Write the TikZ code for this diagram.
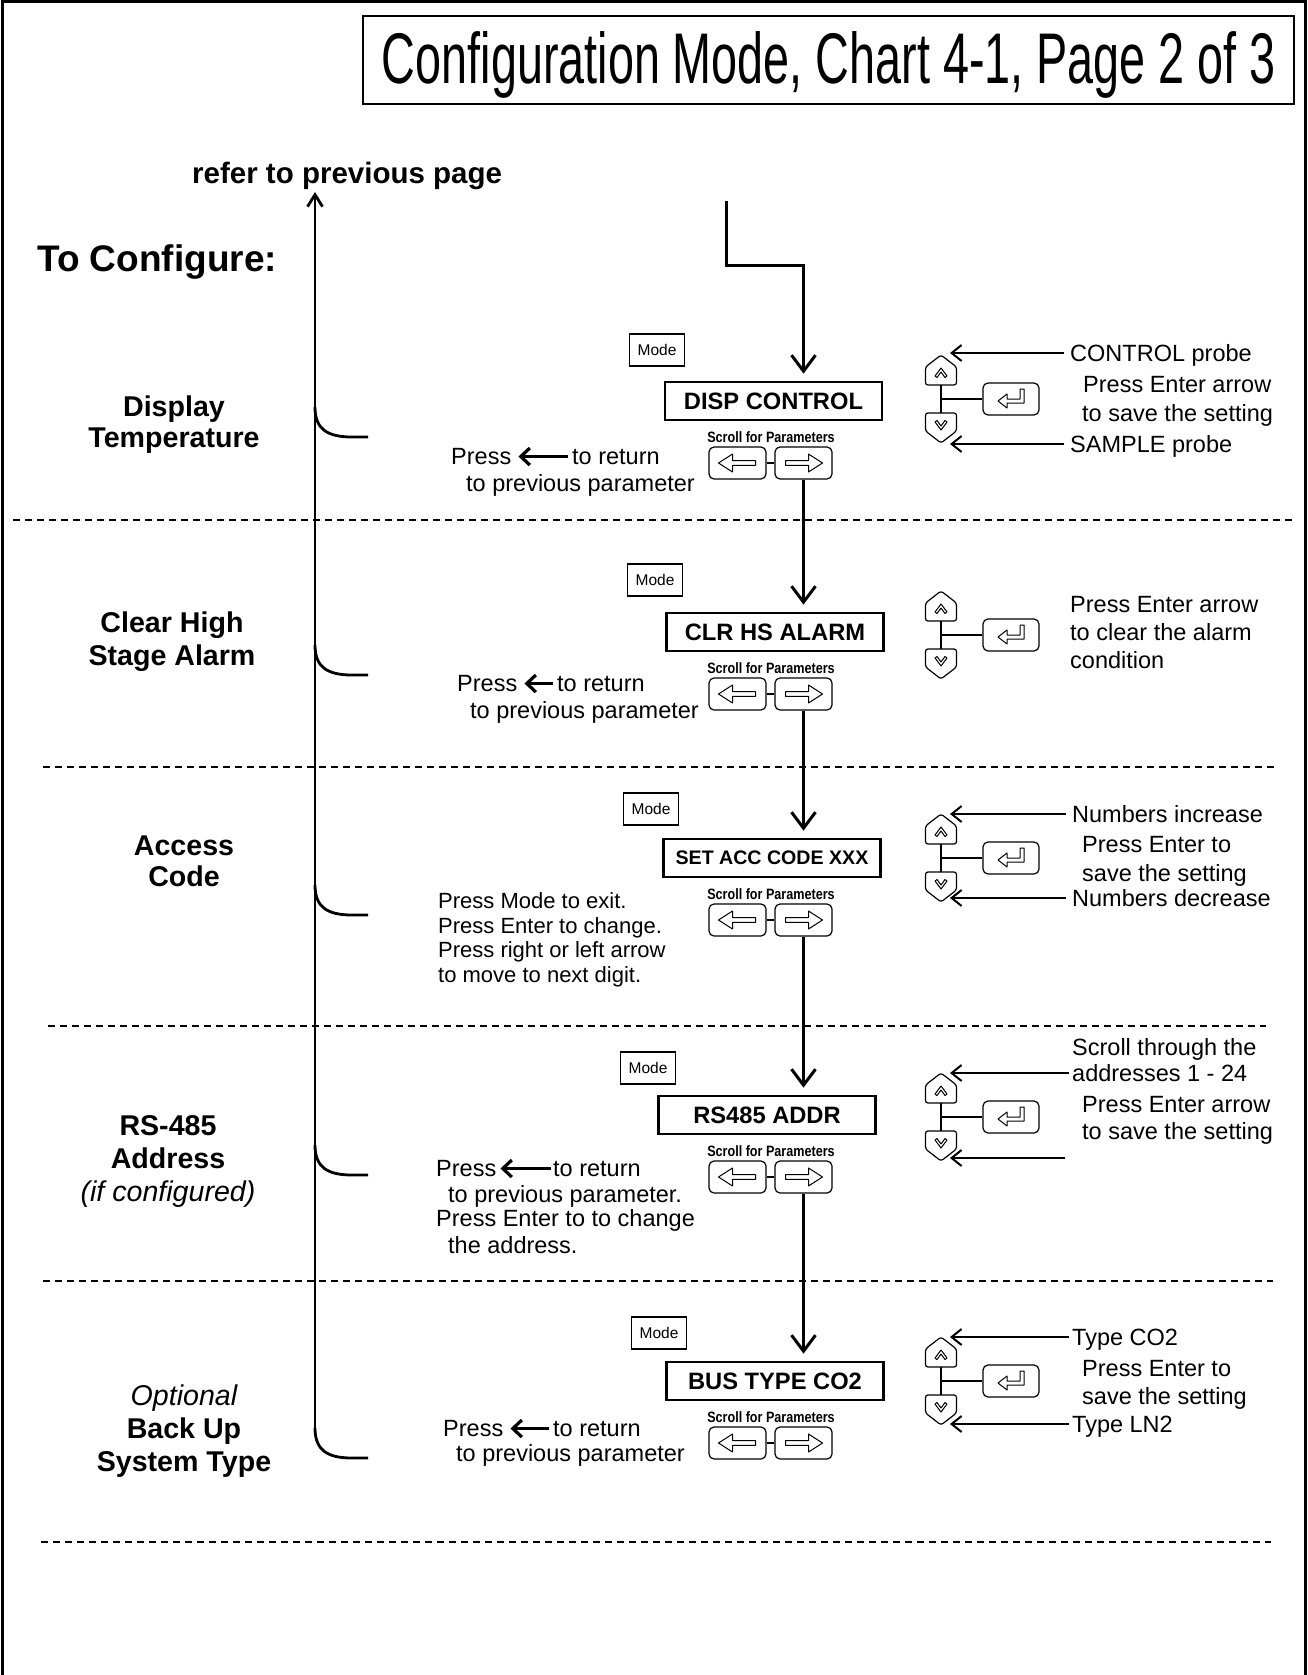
\documentclass[tikz,border=0pt]{standalone}
\usepackage{fontspec}
\setmainfont{Liberation Sans}
\usetikzlibrary{arrows.meta,calc}
\newcommand\fsz[2]{\fontsize{#1}{#2}\selectfont}
\tikzset{
  txt/.style={inner sep=0pt, anchor=base west, font=\fsz{23.5}{28}},
  smalltxt/.style={inner sep=0pt, anchor=base west, font=\fsz{22}{26}},
  lbl/.style={inner sep=0pt, anchor=base, font=\fsz{28.6}{32}\bfseries},
  lbli/.style={inner sep=0pt, anchor=base, font=\fsz{28.6}{32}\itshape},
  dispbox/.style={draw, line width=2.7pt, minimum width=217pt, minimum height=38pt, inner sep=0pt, font=\fsz{23.7}{28}\bfseries},
  modebox/.style={draw, line width=1.4pt, minimum width=55pt, minimum height=32pt, inner sep=0pt, font=\fsz{15.5}{17}},
  btnbox/.style={draw, line width=1.2pt, rounded corners=5pt, minimum width=57pt, minimum height=32pt, inner sep=0pt},
  flow/.style={line width=3pt, -{Straight Barb[length=16pt,width=24pt]}},
  karrow/.style={line width=2pt, -{Straight Barb[length=10pt,width=16pt]}},
  parrow/.style={line width=3.2pt, -{Straight Barb[length=9pt,width=17pt]}},
  sepline/.style={line width=1.3pt, dash pattern=on 7pt off 5pt},
  bracket/.style={line width=2.8pt},
  glyph/.style={line width=1pt, line join=round},
  scrollpair/.pic={
    \node[font=\fsz{15}{16}\bfseries, inner sep=0pt, anchor=base] (-t) at (0,-21) {\scalebox{0.84}[1]{Scroll for Parameters}};
    \node[btnbox] (-lb) at (-33.5,0) {};
    \node[btnbox] (-rb) at (32.5,0) {};
    \draw[line width=1.2pt] (-lb) -- (-rb);
    \draw[glyph] (-52.5,0) -- (-38.5,-9) -- (-38.5,-2.3) -- (-15.5,-2.3) -- (-15.5,2.3) -- (-38.5,2.3) -- (-38.5,9) -- cycle;
    \draw[glyph] (51.5,0) -- (37.5,-9) -- (37.5,-2.3) -- (14.5,-2.3) -- (14.5,2.3) -- (37.5,2.3) -- (37.5,9) -- cycle;
  },
  keypad/.pic={
    \draw[line width=1.2pt, rounded corners=2.5pt] (0,-44) -- (15.5,-32) -- (15.5,-14) -- (-15.5,-14) -- (-15.5,-32) -- cycle;
    \draw[glyph] (-6,-23) -- (0,-31) -- (6,-23) -- (4,-21.5) -- (0,-27) -- (-4,-21.5) -- cycle;
    \draw[line width=1.2pt, rounded corners=2.5pt] (0,44) -- (15.5,32) -- (15.5,14) -- (-15.5,14) -- (-15.5,32) -- cycle;
    \draw[glyph] (-6,23) -- (0,31) -- (6,23) -- (4,21.5) -- (0,27) -- (-4,21.5) -- cycle;
    \node[btnbox, minimum width=56pt, minimum height=32pt] (-ent) at (70,0) {};
    \draw[line width=1.3pt] (0,-14) -- (0,14);
    \draw[line width=1.3pt] (0,0) -- (-ent.west);
    \draw[glyph] (57,2) -- (66,-5) -- (66,0) -- (79,0) -- (79,-10) -- (83,-10) -- (83,4) -- (66,4) -- (66,9) -- cycle;
  }
}
\begin{document}
\begin{tikzpicture}[x=1pt,y=-1pt]
\useasboundingbox (0,0) rectangle (1307,1675);
\fill[white] (0,0) rectangle (1307,1675);
% outer frame
\draw[line width=3pt] (2,1675) -- (2,2) -- (1305,2) -- (1305,1675);
% title
\node[draw, line width=1.3pt, minimum width=931pt, minimum height=88pt, inner sep=0pt] (tbox) at (828.5,60) {};
\node[inner sep=0pt, anchor=base] (title) at (829,84) {\resizebox{894pt}{52pt}{\fsz{60}{60}Configuration Mode, Chart 4-1, Page 2 of 3}};
\node[inner sep=0pt, anchor=base west, font=\fsz{29.5}{32}\bfseries] (refer) at (192,183) {refer to previous page};
\node[inner sep=0pt, anchor=base west, font=\fsz{37}{40}\bfseries] (tocfg) at (37,271) {To Configure:};

% left vertical arrow and brackets
\coordinate (vtop) at (315,192);
\coordinate (vbot) at (315,1428);
\draw[bracket, -{Straight Barb[length=12pt,width=15pt]}] (vbot) -- (vtop);
\foreach \e in {437,675,915,1175,1458}{
  \draw[bracket] (315,\e-30) .. controls (315,\e-8) and (327,\e) .. (352,\e) -- (368,\e);
}

% separators
\draw[sepline] (13,520) -- (1294,520);
\draw[sepline] (43,767) -- (1277,767);
\draw[sepline] (48,1026) -- (1266,1026);
\draw[sepline] (43,1281) -- (1273,1281);
\draw[sepline] (41,1542) -- (1271,1542);

% section labels
\node[lbl] (lbA1) at (174,416) {Display};
\node[lbl] (lbA2) at (174,447) {Temperature};
\node[lbl] (lbB1) at (172,632) {Clear High};
\node[lbl] (lbB2) at (172,665) {Stage Alarm};
\node[lbl] (lbC1) at (184,855) {Access};
\node[lbl] (lbC2) at (184,886) {Code};
\node[lbl] (lbD1) at (168,1135) {RS-485};
\node[lbl] (lbD2) at (168,1168) {Address};
\node[lbli] (lbD3) at (168,1201) {(if configured)};
\node[lbli] (lbE1) at (184,1405) {Optional};
\node[lbl] (lbE2) at (184,1438) {Back Up};
\node[lbl] (lbE3) at (184,1471) {System Type};

% mode boxes
\node[modebox] (m1) at (657,350) {Mode};
\node[modebox] (m2) at (655,580) {Mode};
\node[modebox] (m3) at (651,809) {Mode};
\node[modebox] (m4) at (648,1068) {Mode};
\node[modebox] (m5) at (659,1333) {Mode};

% display boxes
\node[dispbox] (b1) at (773.5,401) {DISP CONTROL};
\node[dispbox] (b2) at (775,632) {CLR HS ALARM};
\node[dispbox, font=\fsz{19.6}{24}\bfseries] (b3) at (772,858) {SET ACC CODE XXX};
\node[dispbox] (b4) at (767,1115) {RS485 ADDR};
\node[dispbox] (b5) at (775,1381) {BUS TYPE CO2};

% scroll button pairs
\pic (sp1) at (771,463) {scrollpair};
\pic (sp2) at (771,694) {scrollpair};
\pic (sp3) at (771,920) {scrollpair};
\pic (sp4) at (771,1177) {scrollpair};
\pic (sp5) at (771,1443) {scrollpair};

% flow
\coordinate (fstart) at (726,201);
\coordinate (fbend) at (803.5,265);
\draw[flow, shorten >=7pt] (fstart) |- (fbend) -- (fbend |- b1.north);
\draw[flow, shorten >=7pt] (sp1-rb.south) -- (sp1-rb.south |- b2.north);
\draw[flow, shorten >=7pt] (sp2-rb.south) -- (sp2-rb.south |- b3.north);
\draw[flow, shorten >=7pt] (sp3-rb.south) -- (sp3-rb.south |- b4.north);
\draw[flow, shorten >=7pt] (sp4-rb.south) -- (sp4-rb.south |- b5.north);

% keypads
\pic (kp1) at (941,399) {keypad};
\pic (kp2) at (941,635) {keypad};
\pic (kp3) at (941,858) {keypad};
\pic (kp4) at (941,1117) {keypad};
\pic (kp5) at (941,1381) {keypad};

% ---- section 1 texts
\node[txt] (r1a) at (1070,361) {CONTROL probe};
\node[txt] (r1b) at (1083,392) {Press Enter arrow};
\node[txt] (r1c) at (1082,421) {to save the setting};
\node[txt] (r1d) at (1070,452) {SAMPLE probe};
\coordinate (k1u) at (950,353);
\coordinate (k1d) at (950,444);
\draw[karrow] ([xshift=-6pt]r1a.west |- k1u) -- (k1u);
\draw[karrow] ([xshift=-6pt]r1d.west |- k1d) -- (k1d);
\node[txt] (l1a) at (451,464) {Press};
\node[txt] (l1b) at (572,464) {to return};
\node[txt] (l1c) at (466,491) {to previous parameter};
\draw[parrow] ([xshift=-4pt]l1b.west) -- ([xshift=7pt]l1b.west -| l1a.east);

% ---- section 2 texts
\node[txt] (r2a) at (1070,612) {Press Enter arrow};
\node[txt] (r2b) at (1070,640) {to clear the alarm};
\node[txt] (r2c) at (1070,668) {condition};
\node[txt] (l2a) at (457,691) {Press};
\node[txt] (l2b) at (557,691) {to return};
\node[txt] (l2c) at (470,718) {to previous parameter};
\draw[parrow] ([xshift=-4pt]l2b.west) -- ([xshift=7pt]l2b.west -| l2a.east);

% ---- section 3 texts
\node[txt] (r3a) at (1072,822) {Numbers increase};
\node[txt] (r3b) at (1082,852) {Press Enter to};
\node[txt] (r3c) at (1082,881) {save the setting};
\node[txt] (r3d) at (1072,906) {Numbers decrease};
\coordinate (k3u) at (950,814);
\coordinate (k3d) at (950,898);
\draw[karrow] ([xshift=-6pt]r3a.west |- k3u) -- (k3u);
\draw[karrow] ([xshift=-6pt]r3d.west |- k3d) -- (k3d);
\node[smalltxt] (l3a) at (438,908) {Press Mode to exit.};
\node[smalltxt] (l3b) at (438,933) {Press Enter to change.};
\node[smalltxt] (l3c) at (438,957) {Press right or left arrow};
\node[smalltxt] (l3d) at (438,982) {to move to next digit.};

% ---- section 4 texts
\node[txt] (r4a) at (1072,1055) {Scroll through the};
\node[txt] (r4b) at (1072,1081) {addresses 1 - 24};
\node[txt] (r4c) at (1082,1112) {Press Enter arrow};
\node[txt] (r4d) at (1082,1139) {to save the setting};
\coordinate (k4u) at (950,1073);
\coordinate (k4d) at (950,1158);
\coordinate (k4free) at (1065,1158);
\draw[karrow] ([xshift=-3pt]r4b.west |- k4u) -- (k4u);
\draw[karrow] (k4free) -- (k4d);
\node[txt] (l4a) at (436,1176) {Press};
\node[txt] (l4b) at (553,1176) {to return};
\node[txt] (l4c) at (448,1202) {to previous parameter.};
\node[txt] (l4d) at (436,1226) {Press Enter to to change};
\node[txt] (l4e) at (448,1253) {the address.};
\draw[parrow] ([xshift=-2pt]l4b.west) -- ([xshift=4pt]l4b.west -| l4a.east);

% ---- section 5 texts
\node[txt] (r5a) at (1072,1345) {Type CO2};
\node[txt] (r5b) at (1082,1376) {Press Enter to};
\node[txt] (r5c) at (1082,1404) {save the setting};
\node[txt] (r5d) at (1072,1432) {Type LN2};
\coordinate (k5u) at (950,1337);
\coordinate (k5d) at (950,1424);
\draw[karrow] ([xshift=-3pt]r5a.west |- k5u) -- (k5u);
\draw[karrow] ([xshift=-3pt]r5d.west |- k5d) -- (k5d);
\node[txt] (l5a) at (443,1436) {Press};
\node[txt] (l5b) at (553,1436) {to return};
\node[txt] (l5c) at (456,1461) {to previous parameter};
\draw[parrow] ([xshift=-4pt]l5b.west) -- ([xshift=7pt]l5b.west -| l5a.east);
\end{tikzpicture}
\end{document}
